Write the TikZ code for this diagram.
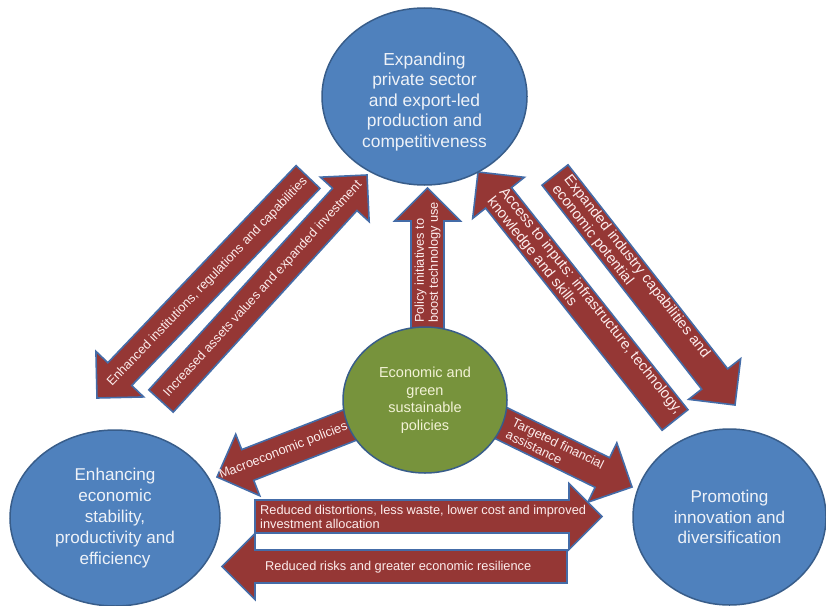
\documentclass[tikz,border=0pt]{standalone}
\usepackage{fontspec}
\setmainfont{Liberation Sans}
\usetikzlibrary{shapes.geometric,calc}
\definecolor{ellblue}{RGB}{79,129,189}
\definecolor{ellblueedge}{RGB}{56,93,138}
\definecolor{ellgreen}{RGB}{119,147,60}
\definecolor{arrred}{RGB}{149,55,53}
\definecolor{arredge}{RGB}{68,108,168}
\definecolor{elltext}{RGB}{238,242,248}
\definecolor{greentext}{RGB}{242,242,214}
\definecolor{arrtext}{RGB}{252,236,236}
\newcommand*\BAhs{16.5pt}
\newcommand*\BAhh{33pt}
\newcommand*\BAhl{33pt}
\newcommand\blockarrow[2]{%
  \coordinate (ba-hb) at ($(#2)!\BAhl!(#1)$);
  \draw[blockarr] ($(#1)!\BAhs!90:(#2)$) -- ($(ba-hb)!\BAhs!90:(#2)$) -- ($(ba-hb)!\BAhh!90:(#2)$) -- (#2) -- ($(ba-hb)!\BAhh!-90:(#2)$) -- ($(ba-hb)!\BAhs!-90:(#2)$) -- ($(#1)!\BAhs!-90:(#2)$) -- cycle;}
\begin{document}
\begin{tikzpicture}[x=1pt,y=-1pt,
  blockarr/.style={fill=arrred, draw=arredge, line width=1.6pt, line join=miter},
  arrtxt/.style={text=arrtext, font=\fontsize{12.8}{14}\selectfont, inner sep=0pt, align=left},
  arrtxtbig/.style={arrtxt, font=\fontsize{14.7}{15.5}\selectfont},
  ellb/.style={ellipse, draw=ellblueedge, fill=ellblue, line width=1.5pt, text=elltext, align=center, inner sep=0pt},
  ellg/.style={ellipse, draw=ellblueedge, fill=ellgreen, line width=1.5pt, text=greentext, align=center, inner sep=0pt}]
\useasboundingbox (0,0) rectangle (826,605);
\fill[white] (0,0) rectangle (826,605);
% arrow end points
\coordinate (a1t) at (308,177);   \coordinate (a1h) at (97,398);
\coordinate (a2t) at (161,401);   \coordinate (a2h) at (367,175);
\coordinate (a3t) at (675,420);   \coordinate (a3h) at (478,172);
\coordinate (a4t) at (555,175);   \coordinate (a4h) at (735,405);
\coordinate (pt)  at (427.5,345); \coordinate (ph)  at (427.5,188);
\coordinate (m1t) at (359,421.5); \coordinate (m1h) at (217,477);
\coordinate (m2t) at (493.5,419.4); \coordinate (m2h) at (632,487);
\coordinate (b1t) at (255,516.5); \coordinate (b1h) at (602,516.5);
\coordinate (b2t) at (567,566.5); \coordinate (b2h) at (222,566.5);
% block arrows
\blockarrow{a1t}{a1h}
\blockarrow{a2t}{a2h}
\blockarrow{a3t}{a3h}
\blockarrow{a4t}{a4h}
\blockarrow{pt}{ph}
\blockarrow{m1t}{m1h}
\blockarrow{m2t}{m2h}
\blockarrow{b1t}{b1h}
\blockarrow{b2t}{b2h}
% arrow labels
\path (a1t) -- (a1h) node[arrtxt, sloped, pos=0.476] (la1) {Enhanced institutions, regulations and capabilities};
\path (a2t) -- (a2h) node[arrtxt, sloped, pos=0.495] (la2) {Increased assets values and expanded investment};
\path (a3t) -- (a3h) node[arrtxtbig, sloped, pos=0.46] (la3) {Access to inputs: infrastructure, technology,\\knowledge and skills};
\path (a4t) -- (a4h) node[arrtxtbig, sloped, pos=0.42] (la4) {Expanded industry capabilities and\\economic potential};
\node[arrtxt, rotate=90] (lp) at (427.5,262.5) {Policy initiatives to\\boost technology use};
\path (m1t) -- (m1h) node[arrtxt, sloped, pos=0.532] (lm1) {Macroeconomic policies};
\path (m2t) -- (m2h) node[arrtxt, sloped, pos=0.445] (lm2) {Targeted financial\\assistance};
\node[arrtxt, anchor=west] (lb1) at (260,517) {Reduced distortions, less waste, lower cost and improved\\investment allocation};
\node[arrtxt, anchor=west] (lb2) at (265,567) {Reduced risks and greater economic resilience};
% ellipses
\node[ellb, minimum width=205pt, minimum height=177pt, font=\fontsize{17.4}{20.5}\selectfont] (top) at (424.5,96.5)
  {\rule{0pt}{23pt}Expanding\\private sector\\and export-led\\production and\\competitiveness};
\node[ellb, minimum width=210pt, minimum height=176pt, font=\fontsize{17.1}{21}\selectfont] (left) at (115,518)
  {Enhancing\\economic\\stability,\\productivity and\\efficiency};
\node[ellb, minimum width=193pt, minimum height=176pt, font=\fontsize{17.1}{20.5}\selectfont] (right) at (729.5,517)
  {Promoting\\innovation and\\diversification};
\node[ellg, minimum width=164pt, minimum height=146pt, font=\fontsize{14.5}{17.5}\selectfont] (centre) at (425,400)
  {Economic and\\green\\sustainable\\policies};
\end{tikzpicture}
\end{document}
